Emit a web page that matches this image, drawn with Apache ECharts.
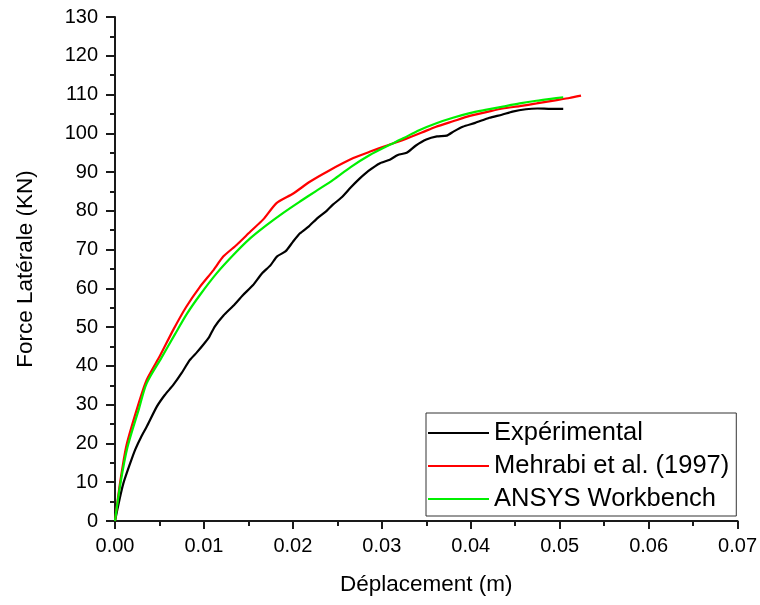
<!DOCTYPE html>
<html>
<head>
<meta charset="utf-8">
<script src="https://cdn.jsdelivr.net/npm/echarts@6/dist/echarts.min.js"></script>
<style>html,body{margin:0;padding:0;background:#fff}#c{width:760px;height:605px}</style>
</head>
<body>
<div id="c"></div>
<script>
var seriesNames = ['Expérimental', 'Mehrabi et al. (1997)', 'ANSYS Workbench'];
var xExp = [0, 0.0005, 0.00094, 0.0016, 0.00225, 0.0029, 0.00356, 0.0047, 0.0056, 0.00655, 0.0075, 0.0084, 0.0092, 0.0099, 0.0106, 0.0112, 0.0122, 0.0133, 0.0144, 0.0155, 0.0165, 0.0175, 0.0182, 0.0192, 0.0200, 0.0208, 0.0218, 0.0228, 0.0238, 0.0245, 0.0255, 0.0265, 0.0275, 0.0285, 0.0298, 0.0309, 0.0318, 0.0328, 0.0338, 0.0350, 0.0362, 0.0373, 0.0381, 0.0391, 0.0405, 0.0421, 0.0435, 0.0447, 0.0462, 0.0475, 0.0490, 0.0504];
var yExp = [0, 5.5, 9.7, 14.2, 18.3, 21.5, 24.3, 29.5, 32.5, 35.1, 38.2, 41.5, 43.5, 45.4, 47.5, 50.1, 53.0, 55.5, 58.3, 60.8, 63.8, 66.0, 68.2, 69.6, 72.0, 74.2, 76.0, 78.2, 80.0, 81.6, 83.5, 86.0, 88.3, 90.3, 92.3, 93.2, 94.4, 95.0, 96.8, 98.4, 99.2, 99.4, 100.5, 101.7, 102.7, 104.0, 104.8, 105.6, 106.2, 106.4, 106.3, 106.3];
var xMeh = [0, 0.00056, 0.0013, 0.0026, 0.00356, 0.0051, 0.00655, 0.0080, 0.00955, 0.0110, 0.01217, 0.01367, 0.0152, 0.01667, 0.01816, 0.0200, 0.0219, 0.0240, 0.0268, 0.0287, 0.0305, 0.0324, 0.0345, 0.0361, 0.0380, 0.0399, 0.0420, 0.0436, 0.0455, 0.0474, 0.0495, 0.0511, 0.0524];
var yMeh = [0, 9.7, 19.6, 29.9, 36.4, 42.8, 49.3, 55.2, 60.4, 64.5, 68.2, 71.2, 74.6, 77.8, 82.0, 84.4, 87.5, 90.3, 93.6, 95.3, 96.8, 98.3, 100.2, 101.7, 103.1, 104.5, 105.6, 106.4, 107.0, 107.7, 108.5, 109.1, 109.7];
var xAns = [0, 0.0006, 0.0014, 0.0027, 0.00356, 0.0052, 0.0067, 0.0081, 0.00955, 0.0114, 0.0133, 0.0151, 0.01704, 0.0190, 0.0208, 0.0226, 0.02453, 0.0265, 0.02865, 0.0305, 0.0324, 0.0342, 0.03614, 0.0380, 0.03989, 0.0418, 0.04363, 0.0455, 0.04738, 0.0490, 0.0504];
var yAns = [0, 9.5, 19.0, 29.0, 35.5, 42.0, 48.0, 53.5, 58.3, 63.8, 68.6, 72.7, 76.3, 79.6, 82.4, 85.1, 88.0, 91.3, 94.4, 96.6, 98.7, 100.8, 102.6, 104.0, 105.2, 106.1, 106.9, 107.7, 108.4, 108.9, 109.3];
var xTicks = [0, 0.01, 0.02, 0.03, 0.04, 0.05, 0.06, 0.07];
var yTicks = [0, 10, 20, 30, 40, 50, 60, 70, 80, 90, 100, 110, 120, 130];

function zip(a, b) { return a.map(function (v, i) { return [v, b[i]]; }); }

var font = 'Liberation Sans, Arial, sans-serif';
var axisCol = '#1a1a1a';
var chart = echarts.init(document.getElementById('c'), null, { renderer: 'canvas' });
chart.setOption({
  animation: false,
  backgroundColor: '#fff',
  grid: { left: 115, right: 22, top: 17, bottom: 84, containLabel: false },
  legend: {
    orient: 'vertical',
    left: 426, top: 413,
    padding: [7, 7, 4, 1],
    itemGap: 7,
    itemWidth: 61,
    itemHeight: 14,
    borderColor: '#333',
    borderWidth: 1,
    itemStyle: { opacity: 0 },
    textStyle: { fontFamily: font, fontSize: 25.5, lineHeight: 26, color: '#000' },
    data: seriesNames
  },
  xAxis: {
    type: 'value', min: xTicks[0], max: xTicks[xTicks.length - 1], interval: 0.01,
    name: 'Déplacement (m)', nameLocation: 'middle', nameGap: 52,
    nameTextStyle: { fontFamily: font, fontSize: 22.5, color: '#000' },
    axisLine: { show: true, lineStyle: { color: axisCol, width: 2 } },
    axisTick: { show: true, length: 8, lineStyle: { color: axisCol, width: 2 } },
    minorTick: { show: true, splitNumber: 2, length: 5, lineStyle: { color: axisCol, width: 2 } },
    splitLine: { show: false },
    axisLabel: { fontFamily: font, fontSize: 20, color: '#000', margin: 15, formatter: function (v) { return v.toFixed(2); } }
  },
  yAxis: {
    type: 'value', min: yTicks[0], max: yTicks[yTicks.length - 1], interval: 10,
    name: 'Force Latérale (KN)', nameLocation: 'middle', nameGap: 78, nameRotate: 90,
    nameTextStyle: { fontFamily: font, fontSize: 22.5, color: '#000' },
    axisLine: { show: true, lineStyle: { color: axisCol, width: 2 } },
    axisTick: { show: true, length: 9, lineStyle: { color: axisCol, width: 2 } },
    minorTick: { show: true, splitNumber: 2, length: 5, lineStyle: { color: axisCol, width: 2 } },
    splitLine: { show: false },
    axisLabel: { fontFamily: font, fontSize: 20, color: '#000', margin: 17 }
  },
  series: [
    { name: seriesNames[0], type: 'line', data: zip(xExp, yExp), symbol: 'none', smooth: 0.2, lineStyle: { color: '#000', width: 2.2 }, itemStyle: { color: '#000' }, z: 3 },
    { name: seriesNames[1], type: 'line', data: zip(xMeh, yMeh), symbol: 'none', smooth: 0.2, lineStyle: { color: '#ff0000', width: 2.2 }, itemStyle: { color: '#ff0000' }, z: 4 },
    { name: seriesNames[2], type: 'line', data: zip(xAns, yAns), symbol: 'none', smooth: 0.3, lineStyle: { color: '#00f000', width: 2.2 }, itemStyle: { color: '#00f000' }, z: 5 }
  ]
});
</script>
</body>
</html>
